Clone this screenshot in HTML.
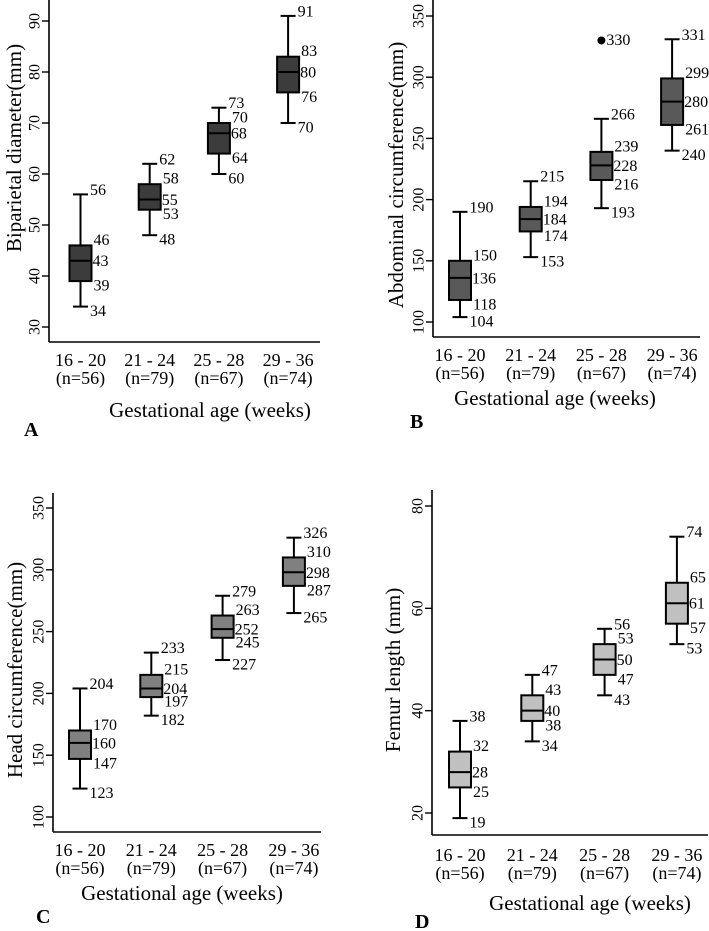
<!DOCTYPE html>
<html><head><meta charset="utf-8"><style>
html,body{margin:0;padding:0;background:#fff;}
svg{display:block;font-family:"Liberation Serif",serif;}
</style></head><body>
<svg id="chart" width="709" height="931" viewBox="0 0 709 931" xmlns="http://www.w3.org/2000/svg"></svg>
<script>
const categories = ["16 - 20","21 - 24","25 - 28","29 - 36"];
const counts = ["(n=56)","(n=79)","(n=67)","(n=74)"];
// Panel A: Biparietal diameter
const bpdMin = [34,48,60,70];
const bpdQ1 = [39,53,64,76];
const bpdMed = [43,55,68,80];
const bpdQ3 = [46,58,70,83];
const bpdMax = [56,62,73,91];
const bpdTicks = [30,40,50,60,70,80,90];
// Panel B: Abdominal circumference
const acMin = [104,153,193,240];
const acQ1 = [118,174,216,261];
const acMed = [136,184,228,280];
const acQ3 = [150,194,239,299];
const acMax = [190,215,266,331];
const acOutlierCat = [2];
const acOutlierVal = [330];
const acTicks = [100,150,200,250,300,350];
// Panel C: Head circumference
const hcMin = [123,182,227,265];
const hcQ1 = [147,197,245,287];
const hcMed = [160,204,252,298];
const hcQ3 = [170,215,263,310];
const hcMax = [204,233,279,326];
const hcTicks = [100,150,200,250,300,350];
// Panel D: Femur length
const flMin = [19,34,43,53];
const flQ1 = [25,38,47,57];
const flMed = [28,40,50,61];
const flQ3 = [32,43,53,65];
const flMax = [38,47,56,74];
const flTicks = [20,40,60,80];

const svg = document.getElementById('chart');
const NS = 'http://www.w3.org/2000/svg';
function mk(tag, attrs, parent, text){
  const e = document.createElementNS(NS, tag);
  for (const k in attrs) e.setAttribute(k, attrs[k]);
  if (text !== undefined) e.textContent = text;
  parent.appendChild(e);
  return e;
}

function drawPanel(p){
  const g = mk('g', {}, svg);
  
  
  const y = v => p.yTop + (p.vTop - v) * (p.yBot - p.yTop) / (p.vTop - p.vBot);
  const x = i => p.c0 + i * p.step;
  const ya = mk('line', {x1:p.ax, y1:p.axTop, x2:p.ax, y2:p.axBot, stroke:'#000','stroke-width':1.6}, g);
  
  
  const xa = mk('line', {x1:p.ax, y1:p.axBot, x2:p.axEnd, y2:p.axBot, stroke:'#000','stroke-width':1.6}, g);
  
  
  p.ticks.forEach(t => {
    const ty = y(t);
    const tk = mk('line', {x1:p.ax-7, y1:ty, x2:p.ax, y2:ty, stroke:'#000','stroke-width':1.4}, g);
    
    
    const tl = mk('text', {x:0, y:0, 'font-size':16, 'text-anchor':'middle', 'dominant-baseline':'central',
      transform:'translate(' + (p.ax-14) + ',' + ty + ') rotate(-90)'}, g, String(t));
    
    
  });
  const yt = mk('text', {x:0, y:0, 'font-size':21, 'text-anchor':'middle', 'dominant-baseline':'central',
    transform:'translate(' + p.ytX + ',' + p.ytY + ') rotate(-90)'}, g, p.ytitle);
  
  
  categories.forEach((c, i) => {
    const t1 = mk('text', {x:x(i), y:p.catY, 'font-size':18, 'text-anchor':'middle', 'dominant-baseline':'central'}, g, c);
    
    
    const t2 = mk('text', {x:x(i), y:p.catY+18, 'font-size':18, 'text-anchor':'middle', 'dominant-baseline':'central'}, g, counts[i]);
    
    
  });
  const xt = mk('text', {x:p.xtX, y:p.xtY, 'font-size':21, 'text-anchor':'middle', 'dominant-baseline':'central'}, g, 'Gestational age (weeks)');
  
  
  const lt = mk('text', {x:p.lx, y:p.ly, 'font-size':20, 'font-weight':'bold', 'dominant-baseline':'central'}, g, p.letter);
  
  
  const hb = 11, hc = 7.5;
  categories.forEach((c, i) => {
    const cx = x(i);
    const bg = mk('g', {}, g);
    
    
    const st = {stroke:'#000','stroke-width':2};
    const w1 = mk('line', Object.assign({x1:cx, y1:y(p.max[i]), x2:cx, y2:y(p.q3[i])}, st), bg);
    
    
    const w2 = mk('line', Object.assign({x1:cx, y1:y(p.q1[i]), x2:cx, y2:y(p.min[i])}, st), bg);
    
    
    const c1 = mk('line', Object.assign({x1:cx-hc, y1:y(p.max[i]), x2:cx+hc, y2:y(p.max[i])}, st), bg);
    
    
    const c2 = mk('line', Object.assign({x1:cx-hc, y1:y(p.min[i]), x2:cx+hc, y2:y(p.min[i])}, st), bg);
    
    
    const r = mk('rect', Object.assign({x:cx-hb, y:y(p.q3[i]), width:2*hb, height:y(p.q1[i])-y(p.q3[i]), fill:p.fill}, st), bg);
    
    
    const m = mk('line', Object.assign({x1:cx-hb, y1:y(p.med[i]), x2:cx+hb, y2:y(p.med[i])}, st), bg);
    
    
    const labs = [[p.max[i], cx+hc+2, -4, 'max-label'], [p.q3[i], cx+hb+2, -5, 'q3-label'],
      [p.med[i], cx+hb+1, 1, 'median-label'], [p.q1[i], cx+hb+2, 5, 'q1-label'], [p.min[i], cx+hc+2, 5, 'min-label']];
    labs.forEach(L => {
      const t = mk('text', {x:L[1], y:y(L[0])+L[2], 'font-size':16, 'dominant-baseline':'central'}, bg, String(L[0]));
      
      
    });
  });
  (p.outCat || []).forEach((ci, k) => {
    const v = p.outVal[k];
    const d = mk('circle', {cx:x(ci), cy:y(v), r:4, fill:'#000'}, g);
    
    
    const t = mk('text', {x:x(ci)+5, y:y(v), 'font-size':16, 'dominant-baseline':'central'}, g, String(v));
    
    
  });
}

drawPanel({letter:'A', ytitle:'Biparietal diameter(mm)', fill:'#3c3c3c',
  min:bpdMin, q1:bpdQ1, med:bpdMed, q3:bpdQ3, max:bpdMax, ticks:bpdTicks,
  vTop:90, vBot:30, yTop:21, yBot:327, ax:49, axTop:0, axBot:342, axEnd:320,
  c0:80.5, step:69.2, catY:360, xtX:210, xtY:410, lx:24, ly:430, ytX:14, ytY:148});
drawPanel({letter:'B', ytitle:'Abdominal circumference(mm)', fill:'#595959',
  min:acMin, q1:acQ1, med:acMed, q3:acQ3, max:acMax, ticks:acTicks, outCat:acOutlierCat, outVal:acOutlierVal,
  vTop:350, vBot:100, yTop:16, yBot:322, ax:433, axTop:0, axBot:337, axEnd:700,
  c0:460, step:70.7, catY:355, xtX:555, xtY:398, lx:410, ly:422, ytX:396, ytY:175});
drawPanel({letter:'C', ytitle:'Head circumference(mm)', fill:'#808080',
  min:hcMin, q1:hcQ1, med:hcMed, q3:hcQ3, max:hcMax, ticks:hcTicks,
  vTop:350, vBot:100, yTop:508, yBot:817, ax:53, axTop:493, axBot:832, axEnd:321,
  c0:80, step:71.3, catY:850, xtX:182, xtY:893, lx:36, ly:917, ytX:15, ytY:670});
drawPanel({letter:'D', ytitle:'Femur length (mm)', fill:'#c0c0c0',
  min:flMin, q1:flQ1, med:flMed, q3:flQ3, max:flMax, ticks:flTicks,
  vTop:80, vBot:20, yTop:506, yBot:813, ax:432, axTop:490, axBot:835, axEnd:708,
  c0:460, step:72.3, catY:855, xtX:590, xtY:903, lx:415, ly:922, ytX:393, ytY:670});
</script>
</body></html>
